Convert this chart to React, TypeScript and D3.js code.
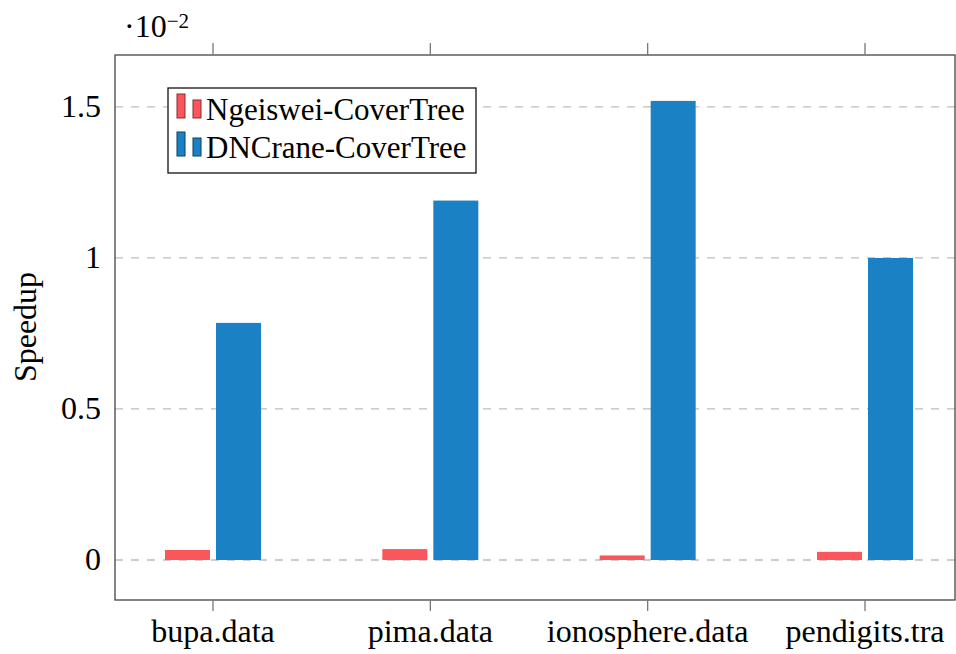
import React, { useEffect, useRef } from 'react'
import * as d3 from 'd3'

const categories = ['bupa.data', 'pima.data', 'ionosphere.data', 'pendigits.tra']
const seriesNames = ['Ngeiswei-CoverTree', 'DNCrane-CoverTree']
const ngeiswei = [0.033, 0.036, 0.015, 0.027]
const dncrane = [0.785, 1.19, 1.52, 1.0]
const yTicks = [0, 0.5, 1, 1.5]
const yTickLabels = ['0', '0.5', '1', '1.5']

const colors = ['#F9575C', '#1A81C5']
const strokes = ['#8a2a2e', '#0d3f61']

const W = 956
const H = 654

export default function App() {
    const ref = useRef<SVGSVGElement>(null)

    useEffect(() => {
        const svg = d3.select(ref.current)
        svg.selectAll('*').remove()

        const frame = { left: 115, right: 955, top: 55, bottom: 600 }
        const font = 'Liberation Serif'

        const y = d3.scaleLinear().domain([-0.1325, 1.672]).range([frame.bottom, frame.top])
        const x = d3.scalePoint<string>().domain(categories).range([213, 865])

        // grid lines
        svg.append('g').selectAll('line').data(yTicks).enter().append('line')
            .attr('x1', frame.left).attr('x2', frame.right)
            .attr('y1', d => y(d)).attr('y2', d => y(d))
            .attr('stroke', '#bdbdbd').attr('stroke-width', 1.3)
            .attr('stroke-dasharray', '8 8')

        // bars
        const series = [ngeiswei, dncrane]
        const barW = 45
        const offsets = [-25.5, 25.5]
        series.forEach((vals, s) => {
            svg.append('g').selectAll('rect').data(vals).enter().append('rect')
                .attr('x', (d, i) => (x(categories[i]) as number) + offsets[s] - barW / 2)
                .attr('width', barW)
                .attr('y', d => y(d))
                .attr('height', d => y(0) - y(d))
                .attr('fill', colors[s])
        })

        // frame
        svg.append('rect')
            .attr('x', frame.left).attr('y', frame.top)
            .attr('width', frame.right - frame.left).attr('height', frame.bottom - frame.top)
            .attr('fill', 'none').attr('stroke', '#444').attr('stroke-width', 1.3)

        // x ticks top and bottom
        const xt = svg.append('g')
        categories.forEach(c => {
            const px = x(c) as number
            xt.append('line').attr('x1', px).attr('x2', px).attr('y1', frame.bottom).attr('y2', frame.bottom + 11)
                .attr('stroke', '#777').attr('stroke-width', 1.3)
            xt.append('line').attr('x1', px).attr('x2', px).attr('y1', frame.top).attr('y2', frame.top - 12)
                .attr('stroke', '#777').attr('stroke-width', 1.3)
            xt.append('text').attr('x', px).attr('y', 642)
                .attr('text-anchor', 'middle')
                .style('font-family', font).attr('font-size', 32)
                .text(c)
        })

        // y tick labels
        svg.append('g').selectAll('text').data(yTicks).enter().append('text')
            .attr('x', 101).attr('y', d => y(d) + 10)
            .attr('text-anchor', 'end')
            .style('font-family', font).attr('font-size', 32)
            .text((d, i) => yTickLabels[i])

        // y label
        svg.append('text')
            .attr('transform', 'translate(36,327) rotate(-90)')
            .attr('text-anchor', 'middle')
            .style('font-family', font).attr('font-size', 32)
            .text('Speedup')

        // scale factor
        const sf = svg.append('text').attr('x', 124).attr('y', 37)
            .style('font-family', font).attr('font-size', 32)
        sf.append('tspan').text('·10')
        sf.append('tspan').attr('dy', -9).attr('font-size', 21).text('−2')

        // legend
        const lg = svg.append('g')
        lg.append('rect').attr('x', 168).attr('y', 88).attr('width', 308).attr('height', 85)
            .attr('fill', 'white').attr('stroke', '#111').attr('stroke-width', 1.3)
        const rowY = [120, 158]
        seriesNames.forEach((name, s) => {
            const base = rowY[s]
            lg.append('rect').attr('x', 177).attr('y', base - 26).attr('width', 8).attr('height', 24)
                .attr('fill', colors[s]).attr('stroke', strokes[s]).attr('stroke-width', 1)
            lg.append('rect').attr('x', 193).attr('y', base - 20).attr('width', 8).attr('height', 18)
                .attr('fill', colors[s]).attr('stroke', strokes[s]).attr('stroke-width', 1)
            lg.append('text').attr('x', 206).attr('y', base)
                .style('font-family', font).attr('font-size', 31)
                .text(name)
        })
    }, [])

    return (
        <svg ref={ref} width={W} height={H}
             style={{ position: 'absolute', left: 0, top: 0, background: 'white' }} />
    )
}
